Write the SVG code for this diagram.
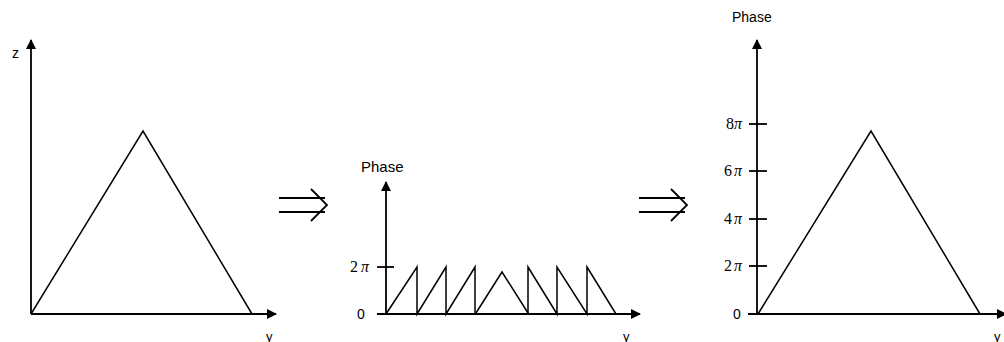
<svg xmlns="http://www.w3.org/2000/svg" width="1004" height="342" viewBox="0 0 1004 342">
<style>
.ax{stroke:#000;stroke-width:1.8;fill:none}
.ln{stroke:#000;stroke-width:1.5;fill:none;stroke-linejoin:miter}
.lbl{font-family:"Liberation Sans",Arial,sans-serif;font-size:13px;fill:#000}
.pi{font-family:"Liberation Serif","Times New Roman",serif;font-size:16px;fill:#000}
.it{font-style:italic}
</style>
<defs>
<marker id="ah" markerWidth="10" markerHeight="10" refX="9" refY="5" orient="auto" markerUnits="userSpaceOnUse">
<path d="M0,0 L10,5 L0,10 Z" fill="#000"/>
</marker>
</defs>
<rect width="1004" height="342" fill="#fff"/>

<g id="panel1">
<line class="ax" x1="31" y1="314" x2="31" y2="40" marker-end="url(#ah)"/>
<line class="ax" x1="31" y1="314" x2="276" y2="314" marker-end="url(#ah)"/>
<polyline class="ln" points="31,314 143,131 252,314"/>
<text class="lbl" x="12" y="58" style="font-size:14px">z</text>
<text class="lbl" x="266" y="341">y</text>
</g>

<g id="arrow1">
<line class="ax" x1="279" y1="198" x2="325" y2="198"/>
<line class="ax" x1="279" y1="212" x2="325" y2="212"/>
<polyline class="ax" points="311,189 327,205 311,221"/>
</g>

<g id="panel2">
<line class="ax" x1="386" y1="314" x2="386" y2="182" marker-end="url(#ah)"/>
<line class="ax" x1="377" y1="314" x2="640" y2="314" marker-end="url(#ah)"/>
<line class="ax" x1="377" y1="267" x2="394" y2="267"/>
<polyline class="ln" points="386,314 417,267 417,314 446,267 446,314 475,267 475,314"/>
<polyline class="ln" points="476,313 502,272 528,313"/>
<polyline class="ln" points="528,314 528,267 557,314 557,267 587,314 587,267 616,314"/>
<text class="lbl" x="361" y="172" style="font-size:15px">Phase</text>
<text class="pi" x="350" y="272">2<tspan dx="3" class="it">π</tspan></text>
<text class="lbl" x="357" y="319" style="font-size:14px">0</text>
<text class="lbl" x="623" y="341">y</text>
</g>

<g id="arrow2">
<line class="ax" x1="639" y1="198" x2="685" y2="198"/>
<line class="ax" x1="639" y1="212" x2="685" y2="212"/>
<polyline class="ax" points="671,189 687,205 671,221"/>
</g>

<g id="panel3">
<line class="ax" x1="757" y1="314" x2="757" y2="40" marker-end="url(#ah)"/>
<line class="ax" x1="748" y1="314" x2="1006" y2="314" marker-end="url(#ah)"/>
<line class="ax" x1="749" y1="124" x2="767" y2="124"/>
<line class="ax" x1="749" y1="171" x2="767" y2="171"/>
<line class="ax" x1="749" y1="219" x2="767" y2="219"/>
<line class="ax" x1="749" y1="266" x2="767" y2="266"/>
<polyline class="ln" points="758,314 871,131 980,314"/>
<text class="lbl" x="732" y="22" style="font-size:14px">Phase</text>
<text class="pi" x="726" y="129">8<tspan class="it">π</tspan></text>
<text class="pi" x="724" y="176">6<tspan dx="2" class="it">π</tspan></text>
<text class="pi" x="724" y="224">4<tspan dx="2" class="it">π</tspan></text>
<text class="pi" x="724" y="271">2<tspan dx="2" class="it">π</tspan></text>
<text class="lbl" x="733" y="319" style="font-size:14px">0</text>
<text class="lbl" x="994" y="341">y</text>
</g>
</svg>
